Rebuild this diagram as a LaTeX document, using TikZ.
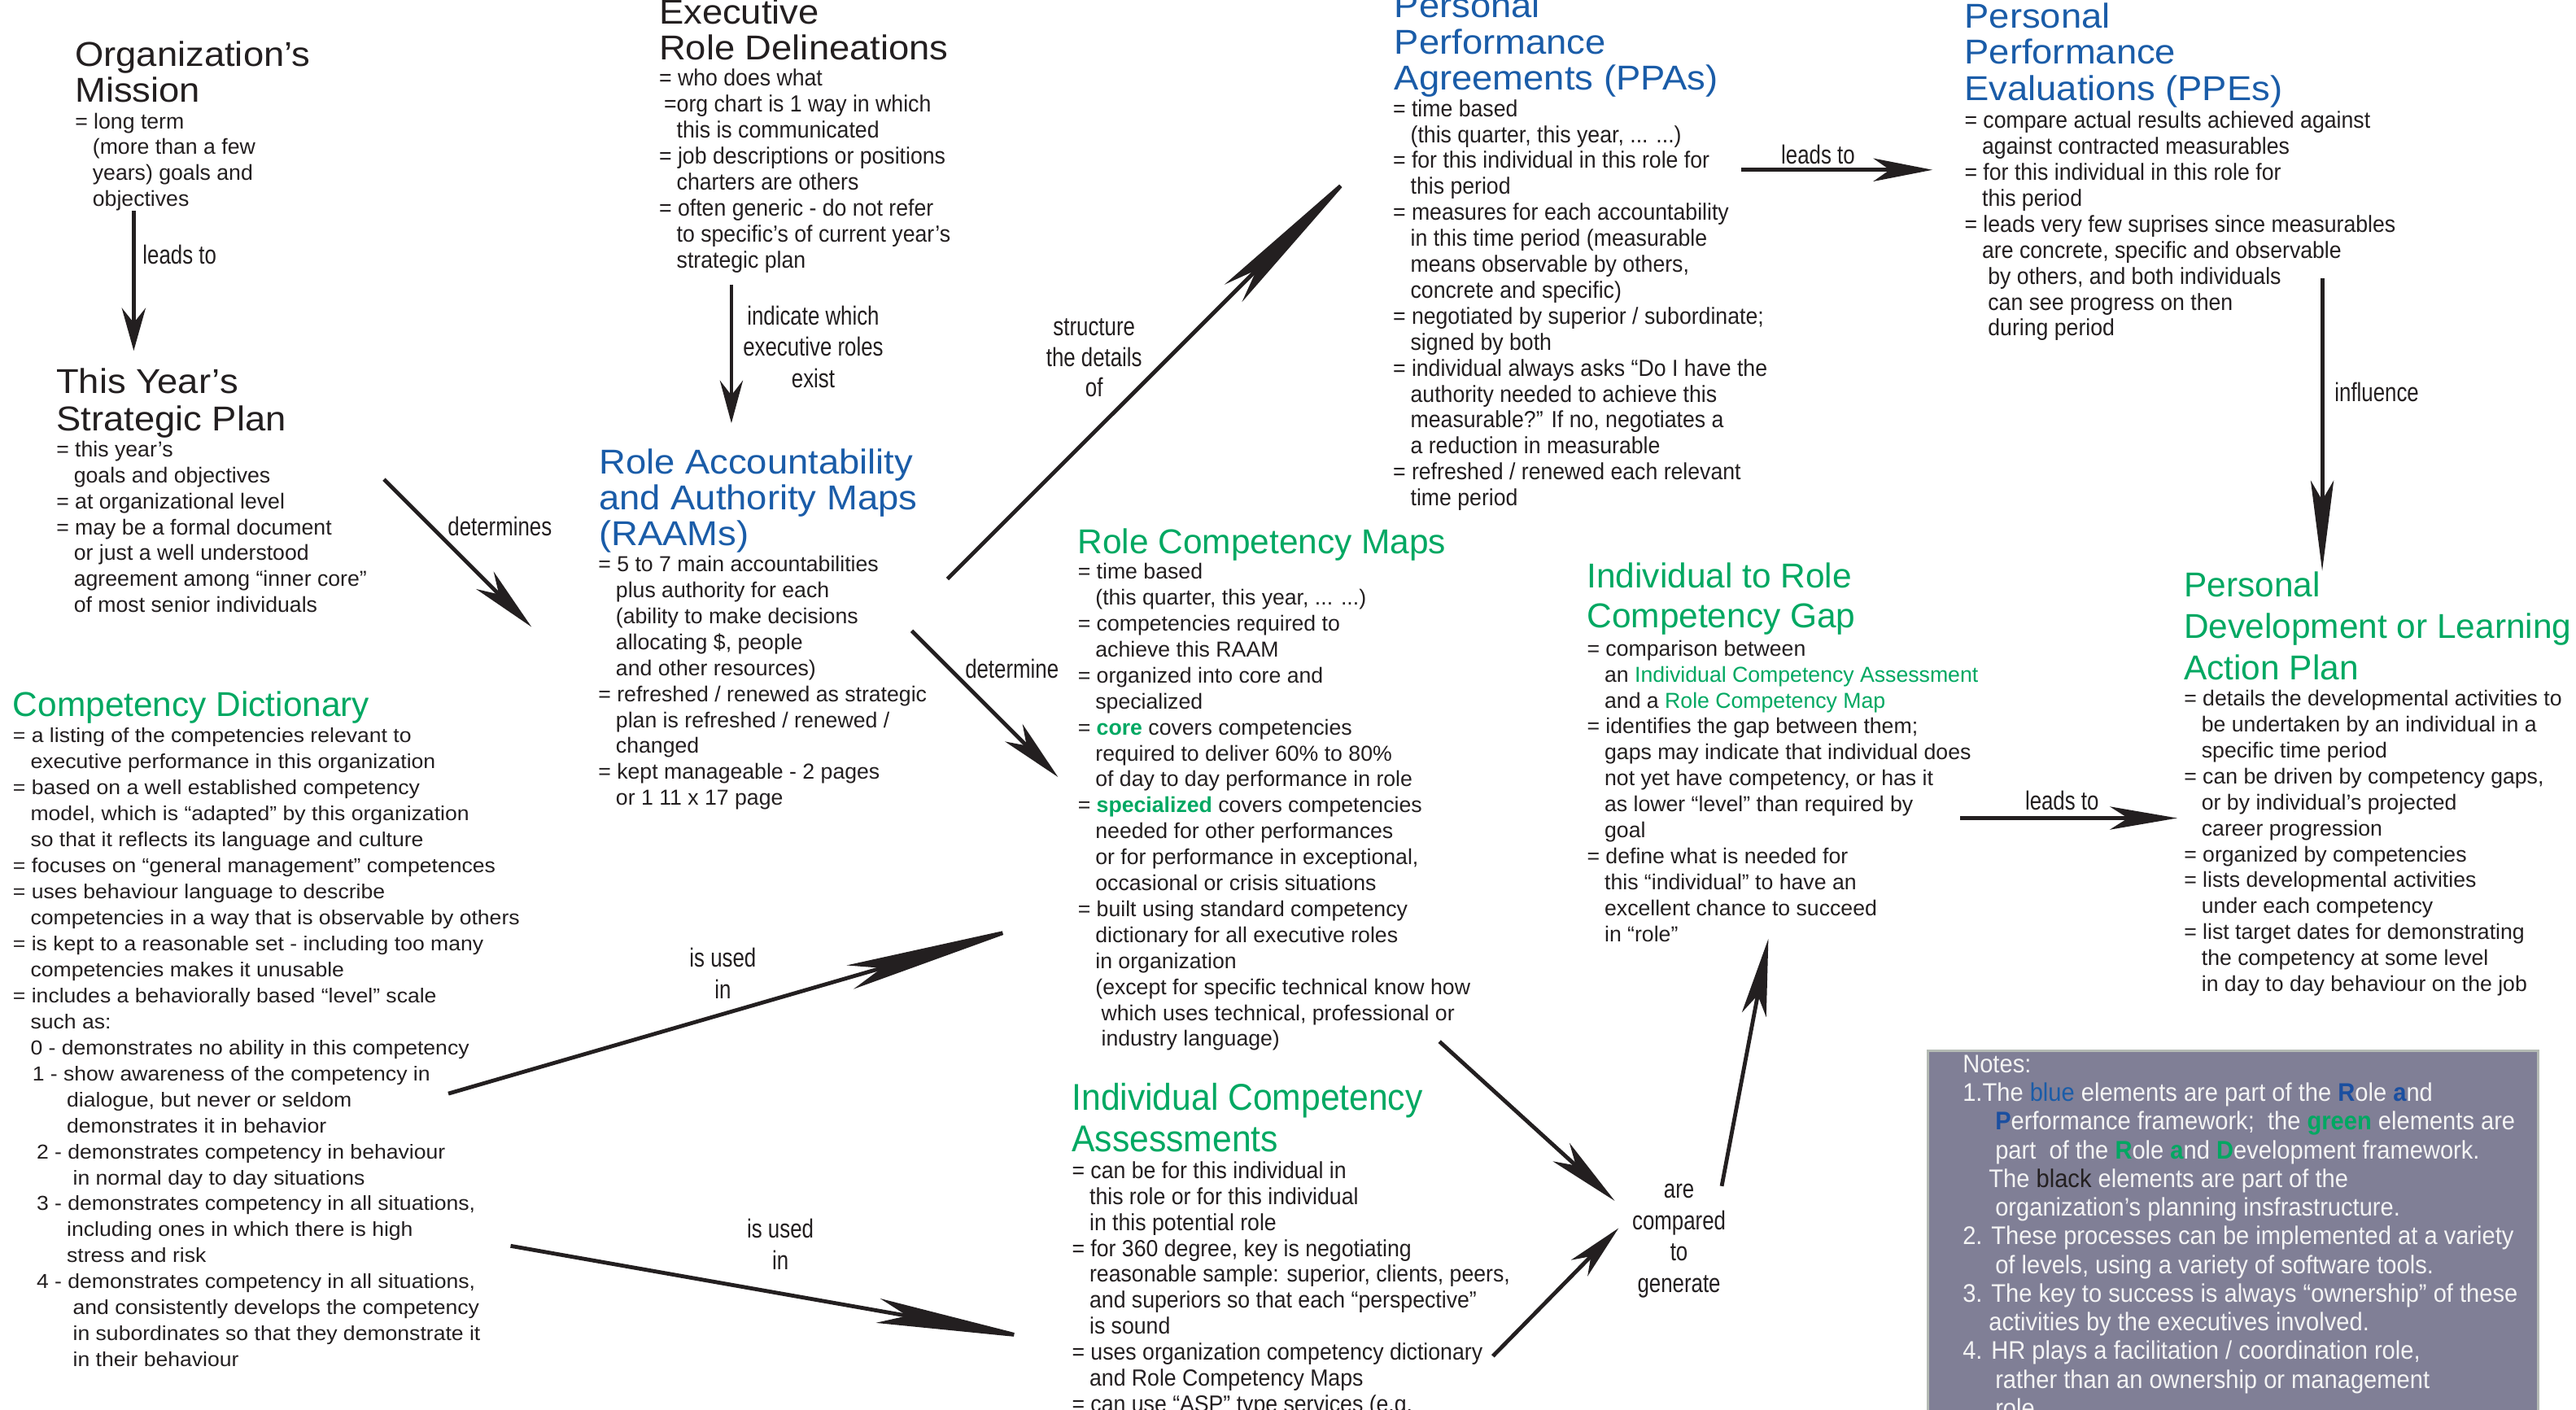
\documentclass[tikz,border=0pt]{standalone}
\usepackage{fontspec}
\setmainfont{Liberation Sans}
\newfontfamily\fcond[FakeStretch=0.93]{Liberation Sans}
\newfontfamily\flab[FakeStretch=0.80]{Liberation Sans}
\newfontfamily\fhead[FakeStretch=1.07]{Liberation Sans}
\newfontfamily\fwide[FakeStretch=1.07]{Liberation Sans}
\usetikzlibrary{arrows.meta}
\definecolor{txt}{HTML}{231F20}
\definecolor{cblue}{HTML}{1A5CA8}
\definecolor{cgreen}{HTML}{00A862}
\definecolor{nblue}{HTML}{1B4FA0}
\definecolor{notefill}{HTML}{807F96}
\definecolor{noteedge}{HTML}{B4BAB4}
\definecolor{notetext}{HTML}{F4F4F4}
\newcommand\cind{\hspace*{10.7pt}}
\newcommand\blk[1]{\begin{tabular}[t]{@{}l@{}}#1\end{tabular}}
\newcommand\cblk[1]{\begin{tabular}[t]{@{}c@{}}#1\end{tabular}}
\newcommand\bB[1]{\textbf{\textcolor{nblue}{#1}}}
\newcommand\bG[1]{\textbf{\textcolor{cgreen}{#1}}}
\tikzset{
  tbody/.style={anchor=base west, inner sep=0pt, text=txt, font={\fontsize{13.2}{15.8}\selectfont}},
  tbodyc/.style={tbody, font={\fcond\fontsize{14.2}{15.8}\selectfont}},
  tbodyw/.style={tbody, font={\fwide\fontsize{12.3}{15.83}\selectfont}},
  thead/.style={anchor=base west, inner sep=0pt, text=txt, font={\fhead\fontsize{21}{22}\selectfont}},
  theadb/.style={thead, text=cblue},
  theadg/.style={anchor=base west, inner sep=0pt, text=cgreen, font={\fontsize{21}{25}\selectfont}},
  tlab/.style={anchor=base, inner sep=0pt, text=txt, font={\flab\fontsize{16}{19}\selectfont}},
  tarr/.style={draw=txt, line width=2.4pt},
}
\begin{document}
\begin{tikzpicture}[x=1pt,y=-1pt]
\useasboundingbox (0,0) rectangle (1568,858);
\clip (0,0) rectangle (1568,858);
\fill[white] (0,0) rectangle (1568,858);

% ---------- Organization's Mission
\node[thead, font={\fhead\fontsize{21}{21.6}\selectfont}] (hOrg) at (45.5,40.4) {\blk{Organization’s\\Mission}};
\node[tbody] (bOrg) at (45.5,78.3) {\blk{= long term\\
\cind (more than a few\\
\cind years) goals and\\
\cind objectives}};

% ---------- This Year's Strategic Plan
\node[thead, font={\fhead\fontsize{21}{22.7}\selectfont}] (hYear) at (34.1,239.6) {\blk{This Year’s\\Strategic Plan}};
\node[tbody] (bYear) at (34.1,278) {\blk{= this year’s\\
\cind goals and objectives\\
= at organizational level\\
= may be a formal document\\
\cind or just a well understood\\
\cind agreement among “inner core”\\
\cind of most senior individuals}};

% ---------- Executive Role Delineations
\node[thead] (hERD) at (401,14.4) {\blk{Executive\\Role Delineations}};
\node[tbodyc] (bERD) at (401,52.4) {\blk{= who does what\\
\hspace*{3pt}=org chart is 1 way in which\\
\cind this is communicated\\
= job descriptions or positions\\
\cind charters are others\\
= often generic - do not refer\\
\cind to specific’s of current year’s\\
\cind strategic plan}};

% ---------- RAAMs
\node[theadb, font={\fhead\fontsize{21}{21.5}\selectfont}] (hRAAM) at (364.5,288.6) {\blk{Role Accountability\\and Authority Maps\\(RAAMs)}};
\node[tbody] (bRAAM) at (364,348) {\blk{= 5 to 7 main accountabilities\\
\cind plus authority for each\\
\cind (ability to make decisions\\
\cind allocating \$, people\\
\cind and other resources)\\
= refreshed / renewed as strategic\\
\cind plan is refreshed / renewed /\\
\cind changed\\
= kept manageable - 2 pages\\
\cind or 1 11 x 17 page}};

% ---------- PPAs
\node[theadb] (hPPA) at (848.6,10.9) {\blk{Personal\\Performance\\Agreements (PPAs)}};
\node[tbodyc] (bPPA) at (847.7,70.9) {\blk{= time based\\
\cind (this quarter, this year, ... ...)\\
= for this individual in this role for\\
\cind this period\\
= measures for each accountability\\
\cind in this time period (measurable\\
\cind means observable by others,\\
\cind concrete and specific)\\
= negotiated by superior / subordinate;\\
\cind signed by both\\
= individual always asks “Do I have the\\
\cind authority needed to achieve this\\
\cind measurable?” If no, negotiates a\\
\cind a reduction in measurable\\
= refreshed / renewed each relevant\\
\cind time period}};

% ---------- PPEs
\node[theadb, font={\fhead\fontsize{21}{22.2}\selectfont}] (hPPE) at (1195.6,16.9) {\blk{Personal\\Performance\\Evaluations (PPEs)}};
\node[tbodyc] (bPPE) at (1195.6,78.1) {\blk{= compare actual results achieved against\\
\cind against contracted measurables\\
= for this individual in this role for\\
\cind this period\\
= leads very few suprises since measurables\\
\cind are concrete, specific and observable\\
\cind\hspace*{3.6pt}by others, and both individuals\\
\cind\hspace*{3.6pt}can see progress on then\\
\cind\hspace*{3.6pt}during period}};

% ---------- Personal Development
\node[theadg, font={\fontsize{21}{25.3}\selectfont}] (hPD) at (1329.2,363.4) {\blk{Personal\\Development or Learning\\Action Plan}};
\node[tbody] (bPD) at (1329.2,429.7) {\blk{= details the developmental activities to\\
\cind be undertaken by an individual in a\\
\cind specific time period\\
= can be driven by competency gaps,\\
\cind or by individual’s projected\\
\cind career progression\\
= organized by competencies\\
= lists developmental activities\\
\cind under each competency\\
= list target dates for demonstrating\\
\cind the competency at some level\\
\cind in day to day behaviour on the job}};

% ---------- Role Competency Maps
\node[theadg] (hRCM) at (655.9,337) {Role Competency Maps};
\node[tbody] (bRCM) at (655.9,352.5) {\blk{= time based\\
\cind (this quarter, this year, ... ...)\\
= competencies required to\\
\cind achieve this RAAM\\
= organized into core and\\
\cind specialized\\
= \bG{core} covers competencies\\
\cind required to deliver 60\% to 80\%\\
\cind of day to day performance in role\\
= \bG{specialized} covers competencies\\
\cind needed for other performances\\
\cind or for performance in exceptional,\\
\cind occasional or crisis situations\\
= built using standard competency\\
\cind dictionary for all executive roles\\
\cind in organization\\
\cind (except for specific technical know how\\
\cind\hspace*{3.6pt}which uses technical, professional or\\
\cind\hspace*{3.6pt}industry language)}};

% ---------- Individual to Role Competency Gap
\node[theadg, font={\fontsize{21}{24.3}\selectfont}] (hGap) at (965.8,358) {\blk{Individual to Role\\Competency Gap}};
\node[tbody] (bGap) at (965.8,399.3) {\blk{= comparison between\\
\cind an \textcolor{cgreen}{Individual Competency Assessment}\\
\cind and a \textcolor{cgreen}{Role Competency Map}\\
= identifies the gap between them;\\
\cind gaps may indicate that individual does\\
\cind not yet have competency, or has it\\
\cind as lower “level” than required by\\
\cind goal\\
= define what is needed for\\
\cind this “individual” to have an\\
\cind excellent chance to succeed\\
\cind in “role”}};

% ---------- Competency Dictionary
\node[theadg] (hCD) at (7.7,436) {Competency Dictionary};
\node[tbodyw] (bCD) at (7.7,452) {\blk{= a listing of the competencies relevant to\\
\cind executive performance in this organization\\
= based on a well established competency\\
\cind model, which is “adapted” by this organization\\
\cind so that it reflects its language and culture\\
= focuses on “general management” competences\\
= uses behaviour language to describe\\
\cind competencies in a way that is observable by others\\
= is kept to a reasonable set - including too many\\
\cind competencies makes it unusable\\
= includes a behaviorally based “level” scale\\
\cind such as:\\
\cind 0 - demonstrates no ability in this competency\\
\hspace*{11.8pt}1 - show awareness of the competency in\\
\hspace*{32.8pt}dialogue, but never or seldom\\
\hspace*{32.8pt}demonstrates it in behavior\\
\hspace*{14.4pt}2 - demonstrates competency in behaviour\\
\hspace*{36.5pt}in normal day to day situations\\
\hspace*{14.4pt}3 - demonstrates competency in all situations,\\
\hspace*{32.8pt}including ones in which there is high\\
\hspace*{32.8pt}stress and risk\\
\hspace*{14.4pt}4 - demonstrates competency in all situations,\\
\hspace*{36.5pt}and consistently develops the competency\\
\hspace*{36.5pt}in subordinates so that they demonstrate it\\
\hspace*{36.5pt}in their behaviour}};

% ---------- Individual Competency Assessments
\node[theadg, font={\fcond\fontsize{22.7}{24.8}\selectfont}] (hICA) at (652.3,676) {\blk{Individual Competency\\Assessments}};
\node[tbodyc] (bICA) at (652.3,717.3) {\blk{= can be for this individual in\\
\cind this role or for this individual\\
\cind in this potential role\\
= for 360 degree, key is negotiating\\
\cind reasonable sample: superior, clients, peers,\\
\cind and superiors so that each “perspective”\\
\cind is sound\\
= uses organization competency dictionary\\
\cind and Role Competency Maps\\
= can use “ASP” type services (e.g.}};

% ---------- Notes
\node[anchor=north west, fill=notefill, draw=noteedge, line width=1.2pt, minimum width=371.4pt, minimum height=260pt, inner sep=0pt] (notes) at (1173,639) {};
\node[tbody, text=notetext, font={\fcond\fontsize{15.5}{17.45}\selectfont}] (notestext) at (1194.5,653) {\blk{Notes:\\
1.The \textcolor{cblue}{blue} elements are part of the \bB{R}ole \bB{a}nd\\
\hspace*{19.8pt}\bB{P}erformance framework;\ \ the \bG{green} elements are\\
\hspace*{19.8pt}part\ \ of the \bG{R}ole \bG{a}nd \bG{D}evelopment framework.\\
\hspace*{15.9pt}The \textcolor{txt}{black} elements are part of the\\
\hspace*{19.8pt}organization’s planning insfrastructure.\\
2. These processes can be implemented at a variety\\
\hspace*{19.8pt}of levels, using a variety of software tools.\\
3. The key to success is always “ownership” of these\\
\hspace*{15.9pt}activities by the executives involved.\\
4. HR plays a facilitation / coordination role,\\
\hspace*{19.8pt}rather than an ownership or management\\
\hspace*{19.8pt}role.}};

% ---------- arrow end points
\coordinate (a1s) at (81.4,128.4);   \coordinate (a1e) at (81.4,213.5);
\coordinate (a2s) at (233.7,291.8);  \coordinate (a2e) at (323.5,381.6);
\coordinate (a3s) at (445.2,173.1);  \coordinate (a3e) at (445.2,257.6);
\coordinate (a4s) at (576.7,352.4);  \coordinate (a4e) at (828.5,100.7);
\coordinate (a5s) at (1060,103.4);   \coordinate (a5e) at (1176.3,103.4);
\coordinate (a6s) at (1413.5,169.6); \coordinate (a6e) at (1413.5,347.5);
\coordinate (a7s) at (555,384);      \coordinate (a7e) at (644,473);
\coordinate (a8s) at (272.9,665.7);  \coordinate (a8e) at (628,562.8);
\coordinate (a9s) at (310.8,758.4);  \coordinate (a9e) at (633,815.2);
\coordinate (a10s) at (876.2,634);   \coordinate (a10e) at (982.9,731);
\coordinate (a11s) at (908.7,825.5); \coordinate (a11e) at (985.2,747.6);
\coordinate (a12s) at (1048,722);    \coordinate (a12e) at (1076.4,571.4);
\coordinate (a13s) at (1193,498);    \coordinate (a13e) at (1325.3,498);

\draw[tarr, -{Stealth[length=26pt,width=14.5pt,inset=9pt]}] (a1s) -- (a1e);
\draw[tarr, -{Stealth[length=40pt,width=15pt,inset=12pt]}] (a2s) -- (a2e);
\draw[tarr, -{Stealth[length=26pt,width=14pt,inset=9pt]}] (a3s) -- (a3e);
\draw[tarr, -{Stealth[length=110pt,width=15pt,inset=20pt]}] (a4s) -- (a4e);
\draw[tarr, -{Stealth[length=36pt,width=14pt,inset=10pt]}] (a5s) -- (a5e);
\draw[tarr, -{Stealth[length=55pt,width=14pt,inset=12pt]}] (a6s) -- (a6e);
\draw[tarr, -{Stealth[length=38pt,width=15pt,inset=11pt]}] (a7s) -- (a7e);
\draw[tarr, -{Stealth[length=115pt,width=15pt,inset=20pt]}] (a8s) -- (a8e);
\draw[tarr, -{Stealth[length=100pt,width=15pt,inset=18pt]}] (a9s) -- (a9e);
\draw[tarr, -{Stealth[length=44pt,width=15pt,inset=12pt]}] (a10s) -- (a10e);
\draw[tarr, -{Stealth[length=34pt,width=14pt,inset=10pt]}] (a11s) -- (a11e);
\draw[tarr, -{Stealth[length=47pt,width=15pt,inset=12pt]}] (a12s) -- (a12e);
\draw[tarr, -{Stealth[length=41pt,width=14pt,inset=11pt]}] (a13s) -- (a13e);

% ---------- arrow labels
\node[tlab, anchor=base west] (lLead1) at (86.7,160.5) {leads to};
\node[tlab, anchor=base west] (lDet) at (272.4,326) {determines};
\node[tlab] (lInd) at (495,197.9) {\cblk{indicate which\\executive roles\\exist}};
\node[tlab, font={\flab\fontsize{16}{18.5}\selectfont}] (lStruct) at (666,204.5) {\cblk{structure\\the details\\of}};
\node[tlab, anchor=base west] (lLead2) at (1084,99.6) {leads to};
\node[tlab, anchor=base west] (lInfl) at (1420.9,244.6) {influence};
\node[tlab, anchor=base west] (lDet2) at (587.3,412.8) {determine};
\node[tlab] (lUsed1) at (440,588.7) {\cblk{is used\\in}};
\node[tlab] (lUsed2) at (475,753.7) {\cblk{is used\\in}};
\node[tlab] (lComp) at (1022,729.5) {\cblk{are\\compared\\to\\generate}};
\node[tlab, anchor=base west] (lLead3) at (1232.5,492.9) {leads to};
\end{tikzpicture}
\end{document}
